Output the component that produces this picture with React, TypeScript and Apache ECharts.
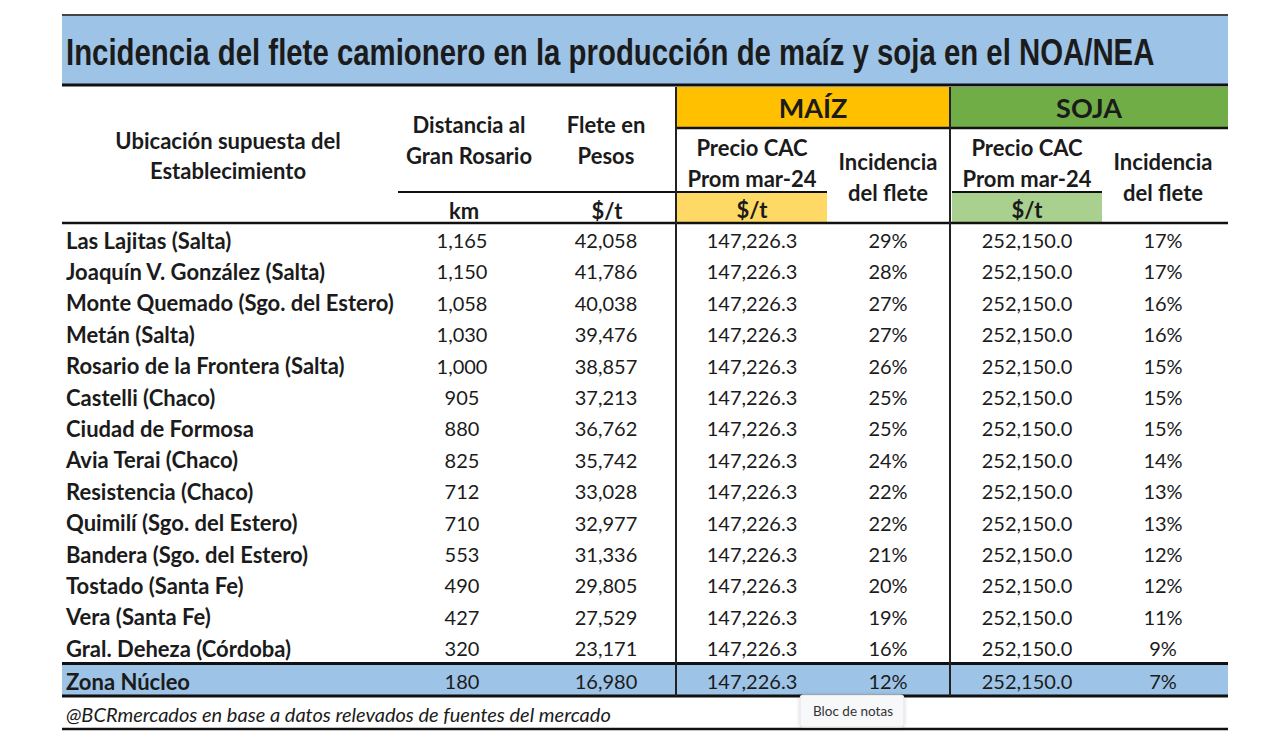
import React, { useEffect, useRef } from "react";
import * as echarts from "echarts";

const titleText = "Incidencia del flete camionero en la producción de maíz y soja en el NOA/NEA";
const locations = [
  "Las Lajitas (Salta)",
  "Joaquín V. González (Salta)",
  "Monte Quemado (Sgo. del Estero)",
  "Metán (Salta)",
  "Rosario de la Frontera (Salta)",
  "Castelli (Chaco)",
  "Ciudad de Formosa",
  "Avia Terai (Chaco)",
  "Resistencia (Chaco)",
  "Quimilí (Sgo. del Estero)",
  "Bandera (Sgo. del Estero)",
  "Tostado (Santa Fe)",
  "Vera (Santa Fe)",
  "Gral. Deheza (Córdoba)",
  "Zona Núcleo",
];
const distancesKm = [1165, 1150, 1058, 1030, 1000, 905, 880, 825, 712, 710, 553, 490, 427, 320, 180];
const fletePesos = [42058, 41786, 40038, 39476, 38857, 37213, 36762, 35742, 33028, 32977, 31336, 29805, 27529, 23171, 16980];
const maizPrecio = [147226.3, 147226.3, 147226.3, 147226.3, 147226.3, 147226.3, 147226.3, 147226.3, 147226.3, 147226.3, 147226.3, 147226.3, 147226.3, 147226.3, 147226.3];
const maizIncidencia = [29, 28, 27, 27, 26, 25, 25, 24, 22, 22, 21, 20, 19, 16, 12];
const sojaPrecio = [252150.0, 252150.0, 252150.0, 252150.0, 252150.0, 252150.0, 252150.0, 252150.0, 252150.0, 252150.0, 252150.0, 252150.0, 252150.0, 252150.0, 252150.0];
const sojaIncidencia = [17, 17, 16, 16, 15, 15, 15, 14, 13, 13, 12, 12, 11, 9, 7];
const footerText = "@BCRmercados en base a datos relevados de fuentes del mercado";

const FONT = "Lato, 'Open Sans', sans-serif";
const TITLE_FONT = "'Liberation Sans', Arial, sans-serif";
const INK = "#1b1b1b";

const fmtInt = (v: number) => v.toLocaleString("en-US");
const fmt1 = (v: number) => v.toLocaleString("en-US", { minimumFractionDigits: 1, maximumFractionDigits: 1 });

export default function App() {
  const ref = useRef<HTMLDivElement>(null);
  useEffect(() => {
    const chart = echarts.init(ref.current!, undefined, { renderer: "svg" });
    const els: any[] = [];
    const L = 62, R = 1228;
    const rect = (x: number, y: number, w: number, h: number, fill: string) =>
      els.push({ type: "rect", shape: { x, y, width: w, height: h }, style: { fill }, silent: true });
    const hline = (x1: number, x2: number, y: number, w: number, c = "#111") =>
      els.push({ type: "line", shape: { x1, y1: y, x2, y2: y }, style: { stroke: c, lineWidth: w }, z: 10 });
    const vline = (x: number, y1: number, y2: number, w: number, c = "#222") =>
      els.push({ type: "line", shape: { x1: x, y1, x2: x, y2 }, style: { stroke: c, lineWidth: w }, z: 10 });
    const BOLD = `bold 22px ${FONT}`;
    const NUM = `20px ${FONT}`;
    const text = (t: string, x: number, y: number, align: string, font: string = BOLD, extra: any = {}) =>
      els.push({
        type: "text",
        x, y, z: 20,
        ...extra,
        style: { text: t, align, verticalAlign: "middle", fill: INK, font },
      });

    // Title band
    rect(L, 15, R - L, 70, "#9dc3e6");
    hline(L, R, 15, 2, "#444");
    hline(L, R, 85, 3, "#111");
    const titleFont = `bold 37px ${TITLE_FONT}`;
    const cv = document.createElement("canvas").getContext("2d")!;
    cv.font = titleFont;
    const tw = cv.measureText(titleText).width || 1400;
    text(titleText, 66, 52, "left", titleFont, { scaleX: 1089 / tw, originX: 0, originY: 0 });

    // Crop header colored bands
    rect(676, 87, 274, 41, "#ffc000");
    rect(950, 87, 278, 41, "#70ad47");
    hline(676, R, 128, 2.5);
    rect(677, 193, 150, 29, "#ffd966");
    rect(952, 193, 150, 29, "#a9d08e");
    hline(398, 676, 192, 2);
    hline(676, 827, 192, 2);
    hline(952, 1102, 192, 2);
    hline(L, R, 223, 2.5);

    text("MAÍZ", 813, 107, "center", `bold 27px ${FONT}`);
    text("SOJA", 1089, 107, "center", `bold 27px ${FONT}`);

    text("Ubicación supuesta del", 228, 140, "center");
    text("Establecimiento", 228, 170, "center");
    text("Distancia al", 469, 124, "center");
    text("Gran Rosario", 469, 155, "center");
    text("Flete en", 606, 124, "center");
    text("Pesos", 606, 155, "center");
    text("km", 464, 210, "center");
    text("$/t", 607, 210, "center");

    const cropCols = [752, 1027];
    const incCols = [888, 1163];
    cropCols.forEach((cx) => {
      text("Precio CAC", cx, 147, "center");
      text("Prom mar-24", cx, 178, "center");
      text("$/t", cx, 209, "center");
    });
    incCols.forEach((cx) => {
      text("Incidencia", cx, 161, "center");
      text("del flete", cx, 192, "center");
    });

    // Data rows
    const y0 = 240, step = 31.4;
    const n = locations.length;
    const lastY = 681;
    rect(L, 664, R - L, 31, "#9dc3e6");
    hline(L, R, 663.5, 3);
    hline(L, R, 696, 3);

    for (let i = 0; i < n; i++) {
      const y = i === n - 1 ? lastY : y0 + i * step;
      text(locations[i], 66, y, "left");
      text(fmtInt(distancesKm[i]), 462, y, "center", NUM);
      text(fmtInt(fletePesos[i]), 606, y, "center", NUM);
      text(fmt1(maizPrecio[i]), 752, y, "center", NUM);
      text(maizIncidencia[i] + "%", 888, y, "center", NUM);
      text(fmt1(sojaPrecio[i]), 1027, y, "center", NUM);
      text(sojaIncidencia[i] + "%", 1163, y, "center", NUM);
    }

    vline(676, 87, 696, 2);
    vline(950, 87, 696, 2);

    // Footer
    text(footerText, 66, 714, "left", `italic 20px ${FONT}`);
    hline(L, R, 729, 2.5);

    // Tooltip overlay "Bloc de notas"
    els.push({
      type: "rect",
      z: 30,
      shape: { x: 800, y: 695, width: 104, height: 32, r: 3 },
      style: { fill: "#f7f8fa", stroke: "#e2e2e2", lineWidth: 1, shadowBlur: 4, shadowColor: "rgba(0,0,0,0.15)" },
    });
    els.push({
      type: "text",
      z: 31,
      x: 853, y: 711,
      style: { text: "Bloc de notas", align: "center", verticalAlign: "middle", fill: "#333", font: `13.5px ${FONT}` },
    });

    chart.setOption({ animation: false, graphic: { elements: els } });
    return () => chart.dispose();
  }, []);
  return (
    <div
      ref={ref}
      style={{ position: "fixed", left: 0, top: 0, width: 1280, height: 736, background: "#fff" }}
    />
  );
}
